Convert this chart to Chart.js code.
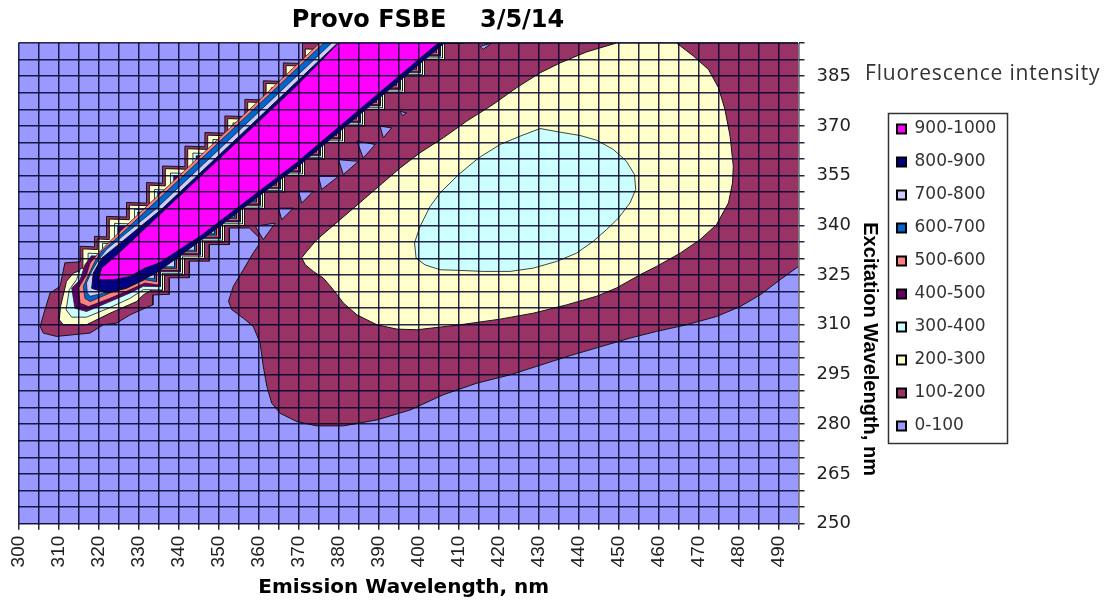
<!DOCTYPE html>
<html><head><meta charset="utf-8">
<style>html,body{margin:0;padding:0;background:#fff}#w{position:relative;width:1109px;height:603px}</style>
<script src="https://cdn.jsdelivr.net/npm/chart.js@4/dist/chart.umd.min.js"></script>
</head><body><div id="w"><canvas id="c" width="1109" height="603"></canvas></div>
<script>
const chartTitle='Provo FSBE    3/5/14';
const xTitle='Emission Wavelength, nm';
const yTitle='Excitation Wavelength, nm';
const sideNote='Fluorescence intensity';
const xTickLabels=[300,310,320,330,340,350,360,370,380,390,400,410,420,430,440,450,460,470,480,490];
const yTickLabels=[250,265,280,295,310,325,340,355,370,385];
const bandNames=['900-1000','800-900','700-800','600-700','500-600','400-500','300-400','200-300','100-200','0-100'];
const bandColors=['#FF00FF','#000080','#CCCCFF','#0066CC','#FF8080','#660066','#CCFFFF','#FFFFCC','#993366','#9999FF'];

const ring0=[[300,250],[495,250],[495,395],[300,395]];

const ring100=[[495,395],[495,327.6],[490.4,323.6],[485.4,319],[480.4,315.5],[474.5,312.5],[467,310],[459.5,308],[452.9,306],[437.9,300.7],[422.9,294.9],[414.6,292.4],[406.2,288.9],[397.9,284.3],[389.6,281.3],[381.2,279.5],[374.6,279.5],[369.6,280.8],[365.4,283.3],[363.3,286.4],[362.1,291.4],[361.2,297.4],[360.4,304.5],[358.7,309.5],[356.2,312],[353.3,314.6],[352.5,317.1],[353.7,321.6],[356.2,326.6],[358.7,331.7],[360,334],[360,336.5],[357.7,339.2],[352.7,339.2],[352.7,334.2],[347.7,334.2],[347.7,329.2],[342.7,329.2],[342.7,324.2],[337.7,324.2],[337.7,319.2],[333.6,319],[333.6,316],[331.6,315],[327.9,313],[324.5,310.5],[321.2,310],[317.9,307.5],[313.7,307],[309.5,306.5],[306.2,307.5],[305.4,309.5],[306.6,314.5],[307.9,319.6],[310.4,321.6],[311.6,328.7],[315.4,329],[315.4,333.7],[319,333.5],[319,336.7],[322,336.5],[322,342.7],[327,342.5],[327,346.9],[332,346.7],[332,352.9],[336,352.7],[336,357.9],[341.6,357.7],[341.6,363.9],[346.6,363.7],[346.6,368],[351.6,367.8],[351.6,373],[356.6,372.8],[356.6,378],[361.2,377.8],[361.2,383.6],[366.2,383.4],[366.2,389],[371,388.8],[371,395]];
const holes100=[
 [[390.4,369.9],[393.3,369.4],[391.2,366.4]],
 [[384.6,365.4],[389.2,364.4],[386.2,360.3]],
 [[380,359.8],[385,359.3],[381.2,355.3]],
 [[375,354.8],[380,354.8],[375.8,350.8]],
 [[370,350.3],[373.7,350.3],[370.8,346.7]],
 [[365,345.2],[368.7,345.2],[365.8,341.7]],
 [[359.2,339.7],[364.2,340.7],[361.2,335.7]],
 [[395.4,374.4],[397,373.9],[396,373.1]],
 [[415.4,394],[418.3,395],[416.2,393.1]]
];

const ring200main=[[464.5,395],[468.7,391.1],[472.5,387],[475,381.5],[476.6,375],[477.9,366.9],[478.7,357.8],[478.5,352.8],[477.5,346.8],[474.5,340.2],[470.4,335.7],[465.4,331.6],[459.5,327.6],[455.4,325.1],[449.5,321.1],[444.5,318.6],[437,316],[428.7,313.5],[420.4,311.7],[410.4,310],[399.6,308.5],[394.6,308.7],[389.6,310],[384.6,313],[381.2,316.6],[378.7,320.6],[376.2,324.1],[373.7,326.1],[371.7,328.1],[370.8,330.2],[372.1,332.2],[374.6,335.7],[380.4,341.7],[395.4,357.3],[400.4,361.9],[406.2,366.4],[412,371.4],[418.7,376.5],[424.5,381.5],[430.4,386],[435.4,389],[442,392.3],[449.5,395]];
const ring200band=[[310.2,311.5],[310.5,315.5],[312,323.1],[313.7,325.6],[316.1,326.6],[316.1,332.9],[319.7,332.7],[319.7,335.9],[322.7,335.7],[322.7,341.9],[327.7,341.7],[327.7,346.1],[332.7,345.9],[332.7,352.1],[336.7,351.9],[336.7,357.1],[342.3,356.9],[342.3,363.1],[347.3,362.9],[347.3,367.2],[352.3,367],[352.3,372.2],[357.3,372],[357.3,377.2],[361.9,377],[361.9,382.8],[366.9,382.6],[366.9,388.2],[371.7,388],[371.7,393.2],[376.5,393],[376.5,395],[411.5,395],[406.5,395],[406.5,390],[401.5,390],[401.5,385],[396.5,385],[396.5,380],[391.5,380],[391.5,375],[386.5,375],[386.5,370],[381.5,370],[381.5,365],[376.5,365],[376.5,360],[371.5,360],[371.5,355],[366.5,355],[366.5,350],[361.5,350],[361.5,345],[356.5,345],[356.5,340],[351.5,340],[351.5,335],[346.5,335],[346.5,330],[341.5,330],[341.5,325],[336.5,325],[336.5,320],[334.1,321.1],[331.2,319],[329.5,317],[322.9,313.5],[317,310],[311.2,310]];

const ring300main=[[430.4,369.2],[435.4,368.1],[440.4,367.1],[444.5,365.7],[448.7,362.9],[452,359.3],[454,355.3],[454.3,350.8],[452.9,346.8],[450,342.2],[447,338.7],[443.7,335.2],[439.5,331.6],[434.5,329.1],[428.7,327.1],[422.9,326.1],[416.2,326.1],[410.4,326.4],[405.4,326.6],[401.6,328.1],[399.4,330.1],[399,334.7],[400.4,339.7],[402.9,345.7],[405.4,349.8],[410,355.3],[415,360.3],[420.4,364.4],[425.4,366.9]];
const ring300band=[[311.9,314.5],[312.7,320.6],[314.5,323.6],[315.5,327],[317.4,327],[317.4,331.6],[321,331.4],[321,334.6],[324,334.4],[324,340.6],[329,340.4],[329,344.8],[334,344.6],[334,350.8],[338,350.6],[338,355.8],[343.6,355.6],[343.6,361.8],[348.6,361.6],[348.6,365.9],[353.6,365.7],[353.6,370.9],[358.6,370.7],[358.6,375.9],[363.2,375.7],[363.2,381.5],[368.2,381.3],[368.2,386.9],[373,386.7],[373,391.9],[378,391.7],[378,395],[411,395],[406,395],[406,390.5],[401,390.5],[401,385.5],[396,385.5],[396,380.5],[391,380.5],[391,375.5],[386,375.5],[386,370.5],[381,370.5],[381,365.5],[376,365.5],[376,360.5],[371,360.5],[371,355.5],[366,355.5],[366,350.5],[361,350.5],[361,345.5],[356,345.5],[356,340.5],[351,340.5],[351,335.5],[346,335.5],[346,330.5],[341,330.5],[341,325.5],[336,325.5],[336,320.5],[331.2,320.6],[327.9,318],[322.5,315],[317,312.3],[313.3,312.3]];

const ring400=[[314.1,315],[313.3,321.1],[315.4,323.6],[316.6,328.1],[318.2,330.8],[321.8,330.6],[321.8,333.8],[324.8,333.6],[324.8,339.8],[329.8,339.6],[329.8,344],[334.8,343.8],[334.8,350],[338.8,349.8],[338.8,355],[344.4,354.8],[344.4,361],[349.4,360.8],[349.4,365.1],[354.4,364.9],[354.4,370.1],[359.4,369.9],[359.4,375.1],[364,374.9],[364,380.7],[369,380.5],[369,386.1],[373.8,385.9],[373.8,391.1],[378.8,390.9],[378.8,395],[410.5,395],[405.5,395],[405.5,391],[400.5,391],[400.5,386],[395.5,386],[395.5,381],[390.5,381],[390.5,376],[385.5,376],[385.5,371],[380.5,371],[380.5,366],[375.5,366],[375.5,361],[370.5,361],[370.5,356],[365.5,356],[365.5,351],[360.5,351],[360.5,346],[355.5,346],[355.5,341],[350.5,341],[350.5,336],[345.5,336],[345.5,331],[340.5,331],[340.5,326],[335.5,326],[335.5,321.5],[331.2,321.6],[327.9,319.6],[322.9,317],[317,314]];

const ring500=[[315.4,316.5],[315,321.1],[317,325.1],[317.9,328.6],[320,331.7],[322.9,335.2],[325,337.7],[331.4,345],[353.4,370],[375.3,395],[410,395],[405,395],[405,391.5],[400,391.5],[400,386.5],[395,386.5],[395,381.5],[390,381.5],[390,376.5],[385,376.5],[385,371.5],[380,371.5],[380,366.5],[375,366.5],[375,361.5],[370,361.5],[370,356.5],[365,356.5],[365,351.5],[360,351.5],[360,346.5],[355,346.5],[355,341.5],[350,341.5],[350,336.5],[345,336.5],[345,331.5],[340,331.5],[340,326.5],[335,326.5],[335,322],[331.6,322.6],[327.9,320.6],[322.9,318],[317.5,315.5]];

const ring600=[[316.6,318],[316.2,321.6],[317.7,325.6],[319.1,329.1],[320.8,332.2],[323.7,335.2],[332.4,345],[354.4,370],[376.3,395],[409.5,395],[404.5,395],[404.5,392],[399.5,392],[399.5,387],[394.5,387],[394.5,382],[389.5,382],[389.5,377],[384.5,377],[384.5,372],[379.5,372],[379.5,367],[374.5,367],[374.5,362],[369.5,362],[369.5,357],[364.5,357],[364.5,352],[359.5,352],[359.5,347],[354.5,347],[354.5,342],[349.5,342],[349.5,337],[344.5,337],[344.5,332],[339.5,332],[339.5,327],[334.5,327],[334.5,323],[331.6,323.6],[327.9,321.6],[322.9,319.6],[317.9,317]];

const ring700=[[317.2,319.6],[317,322.6],[318.3,326.1],[320,329.6],[322,332.7],[325,335.7],[334.4,345],[356.4,370],[378.3,395],[409,395],[404,395],[404,392.5],[399,392.5],[399,387.5],[394,387.5],[394,382.5],[389,382.5],[389,377.5],[384,377.5],[384,372.5],[379,372.5],[379,367.5],[374,367.5],[374,362.5],[369,362.5],[369,357.5],[364,357.5],[364,352.5],[359,352.5],[359,347.5],[354,347.5],[354,342.5],[349,342.5],[349,337.5],[344,337.5],[344,332.5],[339,332.5],[339,327.5],[334,327.5],[334,324],[331.6,324.1],[327.9,322],[322.9,320],[317.9,318.6]];

const ring800=[[318.3,321],[318.7,325.6],[320.8,330.1],[324.5,333.7],[335.9,345],[357.9,370],[379.8,395],[406.5,395],[371,358.9],[347,336.7],[335,326.1],[331.2,323.6],[327,321],[322,319.6]];

const ring900=[[320,323.6],[320.8,327.1],[325,331.5],[369.5,382],[380,395],[404.9,395],[369.5,358.9],[345.4,336.7],[335,328.6],[331.6,327.1],[327.9,324.6],[323.7,323.6]];

function rings(){const out=[];for(let i=0;i<arguments.length;i++){const r=arguments[i];if(i)out.push([null,null]);r.forEach(p=>out.push(p));out.push(r[0]);}return out;}
const bandData=[rings(ring900),rings(ring800),rings(ring700),rings(ring600),rings(ring500),rings(ring400),rings(ring300main,ring300band),rings(ring200main,ring200band),rings(ring100,...holes100),rings(ring0)];
const bandLine=[0.8,1,0.7,0.7,0.7,0.7,0.8,1,1,0];

const gridColor='rgba(0,0,40,0.85)';
const polygonFill={id:'polygonFill',beforeDatasetDraw(chart,args){
  const ctx=chart.ctx,a=chart.chartArea,ds=chart.data.datasets[args.index];
  ctx.save();ctx.beginPath();ctx.rect(a.left,a.top,a.right-a.left,a.bottom-a.top);ctx.clip();
  ctx.beginPath();let pen=false;
  args.meta.data.forEach(p=>{if(p.skip||isNaN(p.x)||isNaN(p.y)){pen=false;ctx.closePath();return;}
    if(!pen){ctx.moveTo(p.x,p.y);pen=true;}else ctx.lineTo(p.x,p.y);});
  ctx.closePath();ctx.fillStyle=ds.backgroundColor;ctx.fill('evenodd');ctx.restore();
}};
const placeBlocks={id:'placeBlocks',afterLayout(chart){
  const t=chart.titleBlock;if(t){t.left=0;t.right=856;}
  const l=chart.legend;if(l){l.left=881;l.right=1009;l.top=104.5;l.bottom=600;l.width=128;l.height=495;}
  const sx=chart.scales.x,sy=chart.scales.y;
  if(!sx._w){sx._w=1;const o=sx.drawTitle;sx.drawTitle=function(){const r=this.right;this.right=r-9.5;o.apply(this,arguments);this.right=r;};}
  if(!sy._w){sy._w=1;const o=sy.drawTitle;sy.drawTitle=function(){const q=this.top;this.top=174.4;o.apply(this,arguments);this.top=q;};}
},afterDraw(chart){
  const ctx=chart.ctx;ctx.save();
  ctx.strokeStyle='#333';ctx.lineWidth=1.5;ctx.strokeRect(888.5,113.5,119,330);
  ctx.fillStyle='#333';ctx.font='21px "Open Sans"';ctx.letterSpacing='0.8px';ctx.textBaseline='middle';ctx.textAlign='left';
  ctx.fillText(sideNote,865,74);ctx.restore();
}};
new Chart(document.getElementById('c'),{
  type:'scatter',
  data:{datasets:bandNames.map((n,i)=>({label:n,data:bandData[i],showLine:true,fill:false,tension:0,spanGaps:false,
    backgroundColor:bandColors[i],borderColor:'#151515',borderWidth:bandLine[i],pointRadius:0,pointHoverRadius:0}))},
  options:{responsive:false,animation:false,
    layout:{padding:{left:18.5,right:225,top:0,bottom:0}},
    plugins:{tooltip:{enabled:false},
      title:{display:true,text:chartTitle,color:'#000',font:{family:'"DejaVu Sans"',size:24,weight:'bold'},padding:{top:6.5,bottom:7.7}},
      legend:{display:true,position:'chartArea',align:'start',
        labels:{boxWidth:9,boxHeight:9,padding:16,color:'#333',font:{family:'"DejaVu Sans"',size:17},
          generateLabels(chart){return Chart.defaults.plugins.legend.labels.generateLabels(chart).map(x=>{x.lineWidth=2;x.strokeStyle='#000';return x;});}}}},
    scales:{
      x:{type:'linear',min:300,max:495,
        afterFit(s){s.height=79.3;},
        grid:{z:1,color:gridColor,lineWidth:1.5,tickLength:6,tickColor:gridColor,drawTicks:true},
        border:{display:true,color:'#777',width:1,z:1},
        ticks:{stepSize:5,autoSkip:false,minRotation:90,maxRotation:90,padding:6,color:'#222',font:{family:'"Liberation Sans"',size:19},
          callback(v){return xTickLabels.includes(v)?String(v):'';}},
        title:{display:true,text:xTitle,color:'#000',font:{family:'"DejaVu Sans"',size:20,weight:'bold'},padding:{top:0,bottom:3}}},
      y:{type:'linear',position:'right',min:250,max:395,
        afterFit(s){s.width=85.5;},
        grid:{z:1,color:gridColor,lineWidth:1.5,tickLength:6,tickColor:gridColor,drawTicks:true},
        border:{display:true,color:'#777',width:1,z:1},
        ticks:{stepSize:5,autoSkip:false,padding:12,color:'#222',font:{family:'"DejaVu Sans"',size:18},
          callback(v){return yTickLabels.includes(v)?String(v):'';}},
        title:{display:true,text:yTitle,color:'#000',font:{family:'"Liberation Sans"',size:20,weight:'bold'},padding:{top:2,bottom:0}}}
    }},
  plugins:[polygonFill,placeBlocks]
});
</script></body></html>
